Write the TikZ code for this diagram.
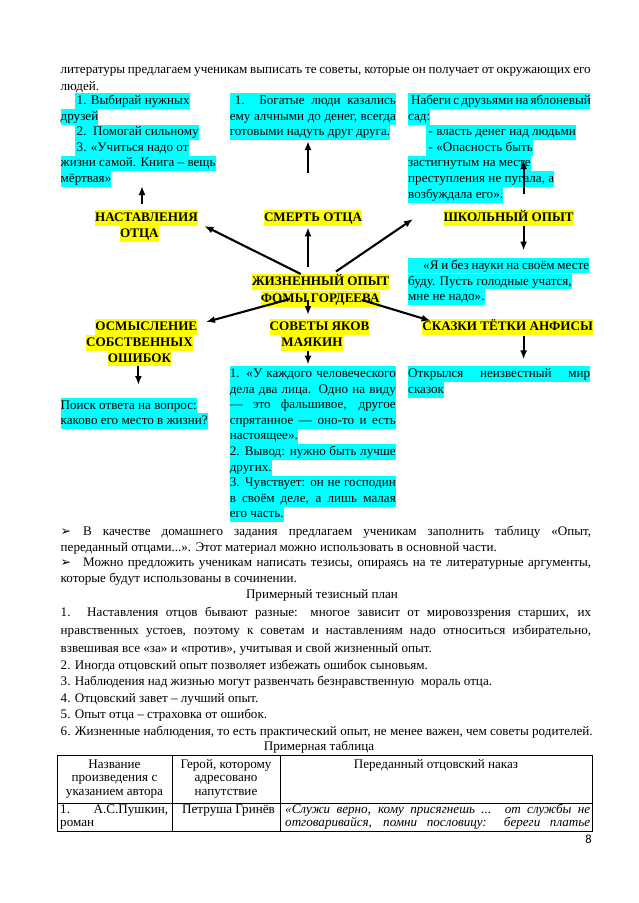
\documentclass[tikz,border=0pt]{standalone}
\usepackage{fontspec}
\setmainfont{Liberation Serif}
\newfontfamily\dejavu{DejaVu Sans}
\newfontfamily\carlito{Carlito}
\usetikzlibrary{arrows.meta}
\definecolor{hlcyan}{RGB}{0,255,255}
\definecolor{hlyellow}{RGB}{255,255,0}
\newcommand\bodyfont{\fontsize{13.1}{15.6}\selectfont}
\newcommand\jl[2]{\makebox[#1pt][s]{#2}}
\tikzset{
  base/.style={anchor=base west, inner xsep=0pt, inner ysep=0pt, font=\bodyfont},
  ctr/.style={anchor=base, inner xsep=0pt, inner ysep=0pt, font=\bodyfont},
  hlc/.style={fill=hlcyan, text height=11.2pt, text depth=4.4pt},
  hly/.style={anchor=base, inner xsep=0pt, inner ysep=0pt, fill=hlyellow, text height=11.2pt, text depth=4.4pt, font=\bodyfont\bfseries},
  arr/.style={-{Latex[length=9pt,width=7pt]}, line width=2.1pt},
  bul/.style={anchor=base west, inner sep=0pt, font=\dejavu\fontsize{12.5}{12.5}\selectfont},
  grid/.style={line width=0.8pt}
}
\begin{document}
\begin{tikzpicture}[x=1pt,y=-1pt]
\useasboundingbox (0,0) rectangle (638,903);
\fill[white] (0,0) rectangle (638,903);

% top paragraph
\node[base] (p1) at (60.5,73) {\jl{530}{литературы предлагаем ученикам выписать те советы, которые он получает от окружающих его}};
\node[base] (p2) at (60.5,90) {людей.};

% left column
\node[base,hlc] (l1) at (74.5,104.5) {\hspace*{2pt}1. Выбирай нужных};
\node[base,hlc] (l2) at (60.5,120.1) {друзей};
\node[base,hlc] (l3) at (74.5,135.7) {\hspace*{2pt}2.\ \ Помогай сильному};
\node[base,hlc] (l4) at (74.5,151.3) {\hspace*{2pt}3. «Учиться надо от};
\node[base,hlc] (l5) at (60.5,166.9) {жизни самой. Книга – вещь};
\node[base,hlc] (l6) at (60.5,182.5) {мёртвая»};

% middle column
\node[base,hlc] (m1) at (229.6,104.5) {\jl{166}{\hspace*{5pt}1. Богатые люди казались}};
\node[base,hlc] (m2) at (229.6,120.1) {\jl{166}{ему алчными до денег, всегда}};
\node[base,hlc] (m3) at (229.6,135.7) {готовыми надуть друг друга.};

% right column
\node[base,hlc] (r1) at (408,104.5) {\jl{182}{\hspace*{3pt}Набеги с друзьями на яблоневый}};
\node[base,hlc] (r2) at (408,120.1) {сад:};
\node[base,hlc] (r3) at (425.5,135.7) {\hspace*{3pt}- власть денег над людьми};
\node[base,hlc] (r4) at (425.5,151.3) {\hspace*{3pt}- «Опасность быть};
\node[base,hlc] (r5) at (408,166.9) {застигнутым на месте};
\node[base,hlc] (r6) at (408,182.5) {преступления не пугала, а};
\node[base,hlc] (r7) at (408,198.1) {возбуждала его».};

% labels row 1
\node[hly] (n1) at (146.5,221.5) {НАСТАВЛЕНИЯ};
\node[hly] (n2) at (139.4,237.5) {ОТЦА};
\node[hly] (s1) at (313,221.5) {СМЕРТЬ ОТЦА};
\node[hly] (k1) at (508.6,221.5) {ШКОЛЬНЫЙ ОПЫТ};

% right quote
\node[base,hlc] (q1) at (408,269) {\jl{181}{\hspace*{15pt}«Я и без науки на своём месте}};
\node[base,hlc] (q2) at (408,285) {буду. Пусть голодные учатся,};
\node[base,hlc] (q3) at (408,300.6) {мне не надо».};

% centre
\node[hly] (c1) at (320.6,285.5) {ЖИЗНЕННЫЙ ОПЫТ};
\node[hly] (c2) at (320.2,302.5) {ФОМЫ ГОРДЕЕВА};

% labels row 2
\node[hly] (o1) at (146.3,330.5) {ОСМЫСЛЕНИЕ};
\node[hly] (o2) at (139.4,346.2) {СОБСТВЕННЫХ};
\node[hly] (o3) at (139.5,362) {ОШИБОК};
\node[hly] (v1) at (319.5,330.5) {СОВЕТЫ ЯКОВ};
\node[hly] (v2) at (312,346.2) {МАЯКИН};
\node[hly] (f1) at (507.7,330.5) {СКАЗКИ ТЁТКИ АНФИСЫ};

\node[base,hlc] (o4) at (60.5,409) {Поиск ответа на вопрос:};
\node[base,hlc] (o5) at (60.5,424.6) {каково его место в жизни?};

\node[base,hlc] (v3) at (229.6,377.5) {\jl{166}{1. «У каждого человеческого}};
\node[base,hlc] (v4) at (229.6,393.1) {\jl{166}{дела два лица. Одно на виду}};
\node[base,hlc] (v5) at (229.6,408.7) {\jl{166}{— это фальшивое, другое}};
\node[base,hlc] (v6) at (229.6,424.3) {\jl{166}{спрятанное — оно-то и есть}};
\node[base,hlc] (v7) at (229.6,439.9) {настоящее».};
\node[base,hlc] (v8) at (229.6,455.5) {\jl{166}{2. Вывод: нужно быть лучше}};
\node[base,hlc] (v9) at (229.6,471.1) {других.};
\node[base,hlc] (v10) at (229.6,486.7) {\jl{166}{3. Чувствует: он не господин}};
\node[base,hlc] (v11) at (229.6,502.3) {\jl{166}{в своём деле, а лишь малая}};
\node[base,hlc] (v12) at (229.6,517.9) {его часть.};

\node[base,hlc] (f2) at (408,377.5) {\jl{182}{Открылся неизвестный мир}};
\node[base,hlc] (f3) at (408,393.1) {сказок};

% arrow end points
\coordinate (a1s) at (142,204);   \coordinate (a1e) at (142,186);
\coordinate (a2s) at (308,172.5); \coordinate (a2e) at (308,141);
\coordinate (a3s) at (523.6,193.6); \coordinate (a3e) at (523.6,160);
\coordinate (b1s) at (300.8,274); \coordinate (b1e) at (204.4,226);
\coordinate (b2s) at (308,267);   \coordinate (b2e) at (308,227.3);
\coordinate (b3s) at (336,271.5); \coordinate (b3e) at (413,219);
\coordinate (b4s) at (523.6,226); \coordinate (b4e) at (523.6,250.5);
\coordinate (c1s) at (290,299);   \coordinate (c1e) at (206,322);
\coordinate (c2s) at (308,300);   \coordinate (c2e) at (308,315);
\coordinate (c3s) at (362,300);   \coordinate (c3e) at (430.6,320.8);
\coordinate (c4s) at (138.4,366.4); \coordinate (c4e) at (138.4,385);
\coordinate (c5s) at (308,350.6); \coordinate (c5e) at (308,364.6);
\coordinate (c6s) at (523.6,336); \coordinate (c6e) at (523.6,359.4);
\foreach \p in {a1,a2,a3,b1,b2,b3,b4,c1,c2,c3,c4,c5,c6}
  \draw[arr] (\p s) -- (\p e);

% lower text
\node[bul] (u1) at (60.5,535.5) {➢};
\node[base] (t1) at (83,535.5) {\jl{508}{В качестве домашнего задания предлагаем ученикам заполнить таблицу «Опыт,}};
\node[base] (t2) at (60.5,551) {переданный отцами...». Этот материал можно использовать в основной части.};
\node[bul] (u2) at (60.5,566.5) {➢};
\node[base] (t3) at (83,566.5) {\jl{508}{Можно предложить ученикам написать тезисы, опираясь на те литературные аргументы,}};
\node[base] (t4) at (60.5,582) {которые будут использованы в сочинении.};
\node[ctr] (t5) at (322,598) {Примерный тезисный план};
\node[base] (t6) at (60.5,616) {\jl{530.5}{1. Наставления отцов бывают разные: многое зависит от мировоззрения старших, их}};
\node[base] (t7) at (60.5,634) {\jl{530.5}{нравственных устоев, поэтому к советам и наставлениям надо относиться избирательно,}};
\node[base] (t8) at (60.5,652.5) {взвешивая все «за» и «против», учитывая и свой жизненный опыт.};
\node[base] (t9) at (60.5,669) {2. Иногда отцовский опыт позволяет избежать ошибок сыновьям.};
\node[base] (t10) at (60.5,685.5) {3. Наблюдения над жизнью могут развенчать безнравственную\ \ мораль отца.};
\node[base] (t11) at (60.5,702) {4. Отцовский завет – лучший опыт.};
\node[base] (t12) at (60.5,718.5) {5. Опыт отца – страховка от ошибок.};
\node[base] (t13) at (60.5,735) {6. Жизненные наблюдения, то есть практический опыт, не менее важен, чем советы родителей.};
\node[ctr] (t14) at (319,750) {Примерная таблица};

% table
\draw[grid] (57,755.5) rectangle (592,831);
\draw[grid] (57,803) -- (592,803);
\draw[grid] (172,755.5) -- (172,831);
\draw[grid] (280,755.5) -- (280,831);
\node[ctr] (h1) at (114.5,768) {Название};
\node[ctr] (h2) at (114.5,781.5) {произведения с};
\node[ctr] (h3) at (114.5,795) {указанием автора};
\node[ctr] (h4) at (226,768) {Герой, которому};
\node[ctr] (h5) at (226,781.5) {адресовано};
\node[ctr] (h6) at (226,795) {напутствие};
\node[ctr] (h7) at (436,768) {Переданный отцовский наказ};
\node[base] (w1) at (60,813) {\jl{108}{1. А.С.Пушкин,}};
\node[base] (w2) at (60,826.5) {роман};
\node[base] (w3) at (182,813) {Петруша Гринёв};
\node[base] (w4) at (285,813) {\itshape\jl{305}{«Служи верно, кому присягнешь ... от службы не}};
\node[base] (w5) at (285,826.5) {\itshape\jl{305}{отговаривайся, помни пословицу: береги платье}};

\node[anchor=base east, inner sep=0pt, font=\carlito\fontsize{12.5}{13}\selectfont] (pg) at (592,843) {8};
\end{tikzpicture}
\end{document}
